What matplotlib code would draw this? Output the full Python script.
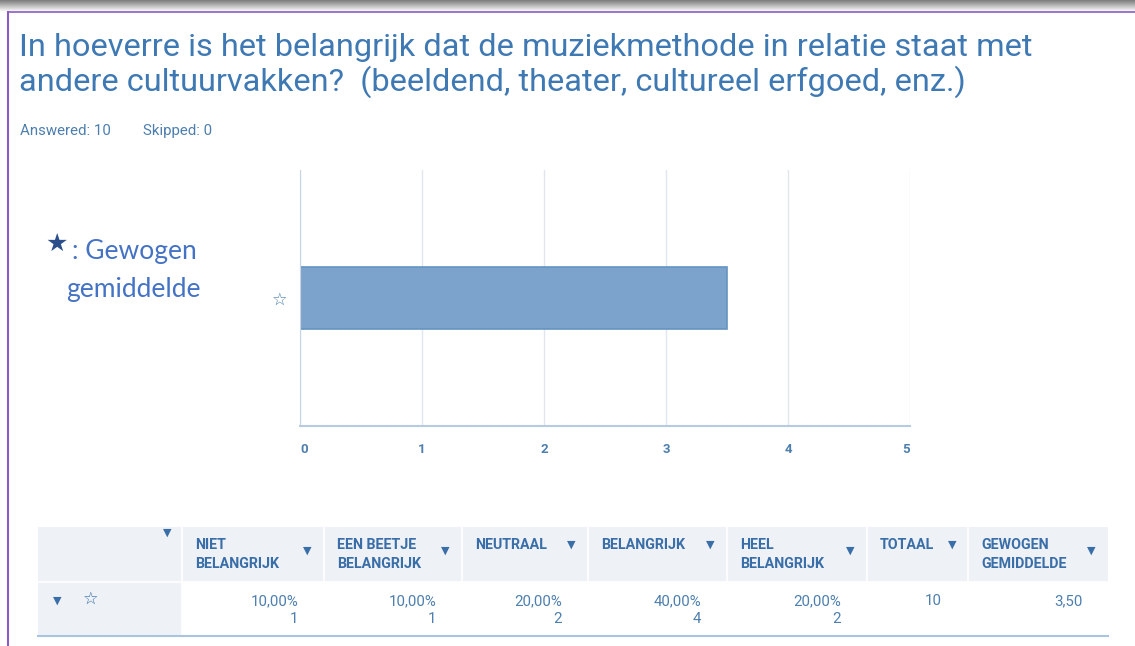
import matplotlib.pyplot as plt
import numpy as np

W, H = 1135, 646

# data
title_lines = ["In hoeverre is het belangrijk dat de muziekmethode in relatie staat met",
               "andere cultuurvakken?  (beeldend, theater, cultureel erfgoed, enz.)"]
answered = 10
skipped = 0
columns = ["NIET\nBELANGRIJK", "EEN BEETJE\nBELANGRIJK", "NEUTRAAL", "BELANGRIJK",
           "HEEL\nBELANGRIJK", "TOTAAL", "GEWOGEN\nGEMIDDELDE"]
percentages = ["10,00%", "10,00%", "20,00%", "40,00%", "20,00%"]
counts = [1, 1, 2, 4, 2]
total = 10
weighted_avg = 3.50
xticks = [0, 1, 2, 3, 4, 5]

blue = '#3f79b3'
hdr_blue = '#3a6ea8'
val_blue = '#4d7fae'


def fx(x):
    return x / W


def fy(y):
    return 1 - y / H


fig = plt.figure(figsize=(W / 100, H / 100), dpi=100)
fig.patch.set_facecolor('white')

# top shadow band and purple frame
bg = fig.add_axes([0, 0, 1, 1], zorder=-5)
bg.set_xlim(0, W)
bg.set_ylim(H, 0)
bg.axis('off')
grad = np.linspace(0.5, 0.95, 12).reshape(-1, 1)
bg.imshow(grad, cmap='gray', vmin=0, vmax=1, extent=[0, W, 11, 0], aspect='auto')
bg.plot([8, 8], [12, H], color='#8a5cc4', lw=1.5)
bg.plot([8, W], [12, 12], color='#8a5cc4', lw=1.2)

# table background
bg.add_patch(plt.Rectangle((38, 527), 1108 - 38, 55, color='#eef2f6', lw=0))
bg.add_patch(plt.Rectangle((38, 582), 182 - 38, 54, color='#eef2f6', lw=0))
col_edges = [38, 182, 324, 462, 588, 727, 867, 968, 1108]
for xe in col_edges[1:-1]:
    bg.plot([xe, xe], [527, 582], color='white', lw=1.2)
bg.plot([182, 182], [582, 636], color='white', lw=1.2)
bg.plot([38, 1108], [582, 582], color='white', lw=1.2)
bg.plot([38, 1108], [636, 636], color='#a9c4de', lw=1.5)

# title
for i, line in enumerate(title_lines):
    fig.text(fx(19), fy(56 + i * 35), line, fontsize=23.4, color=blue,
             family='Roboto', va='baseline')
fig.text(fx(20), fy(131), f"Answered: {answered}", fontsize=10.8, color=val_blue,
         family='Roboto', va='center')
fig.text(fx(143), fy(131), f"Skipped: {skipped}", fontsize=10.8, color=val_blue,
         family='Roboto', va='center')

# chart
ax = fig.add_axes([fx(300), fy(426), (910 - 300) / W, (426 - 170) / H])
ax.barh([0], [weighted_avg], height=0.245, color='#7ba3cb', edgecolor='#6593c0', lw=1.2)
ax.set_xlim(0, 5)
ax.set_ylim(-0.5, 0.5)
ax.set_xticks(xticks)
ax.set_xticklabels([str(t) for t in xticks], color=val_blue, fontsize=9.5,
                   family='Roboto', fontweight='bold')
for lbl, ha in zip(ax.get_xticklabels(), ['left'] + ['center'] * 4 + ['right']):
    lbl.set_ha(ha)
ax.set_yticks([0])
ax.set_yticklabels(['☆'], color=val_blue, fontsize=12.5, family='DejaVu Sans',
                   fontweight='bold')
ax.tick_params(length=0, pad=12)
ax.tick_params(axis='y', pad=9)
ax.grid(axis='x', color='#dfe6ee', lw=1)
ax.set_axisbelow(True)
for s in ['top', 'right']:
    ax.spines[s].set_visible(False)
ax.spines['left'].set_color('#c8d5e2')
ax.spines['bottom'].set_color('#b7cbe0')
ax.spines['bottom'].set_linewidth(1.5)

# annotation on the left
fig.text(fx(57), fy(244), '★', fontsize=18, color='#2c4f8c', family='DejaVu Sans',
         ha='center', va='center')
fig.text(fx(72), fy(251), ': Gewogen', fontsize=19, color='#4472c4', family='Lato',
         va='center')
fig.text(fx(66), fy(289), 'gemiddelde', fontsize=19, color='#4472c4', family='Lato',
         va='center')

# table header
tri = dict(fontsize=8, color=hdr_blue, ha='center', va='center', family='DejaVu Sans')
fig.text(fx(167), fy(533), '▼', **tri)
for j, name in enumerate(columns):
    x0, x1 = col_edges[j + 1], col_edges[j + 2]
    two = '\n' in name
    fig.text(fx(x0 + 13), fy(538 if two else 545), name, fontsize=10.3, color=hdr_blue,
             family='Roboto', fontweight='bold', va='top' if two else 'center',
             ha='left', linespacing=1.45)
    if two:
        fig.text(fx(x1 - 17), fy(551), '▼', **tri)

# single-line headers get the triangle right after the word
for j, xt in [(2, 571), (3, 710), (5, 952)]:
    fig.text(fx(xt), fy(545), '▼', **tri)

# data row
fig.text(fx(57), fy(601), '▼', **tri)
fig.text(fx(91), fy(599), '☆', fontsize=12.5, color=hdr_blue, ha='center', va='center',
         fontweight='bold')
for j in range(5):
    xr = col_edges[j + 2] - 26
    fig.text(fx(xr), fy(601), percentages[j], fontsize=10.8, color=val_blue,
             family='Roboto', ha='right', va='center')
    fig.text(fx(xr), fy(619), str(counts[j]), fontsize=10.8, color=val_blue,
             family='Roboto', ha='right', va='center')
fig.text(fx(933), fy(601), str(total), fontsize=10.8, color=val_blue, family='Roboto',
         ha='center', va='center')
fig.text(fx(1083), fy(601), f"{weighted_avg:.2f}".replace('.', ','), fontsize=10.8,
         color=val_blue, family='Roboto', ha='right', va='center')

fig.savefig('out.png', dpi=100)
